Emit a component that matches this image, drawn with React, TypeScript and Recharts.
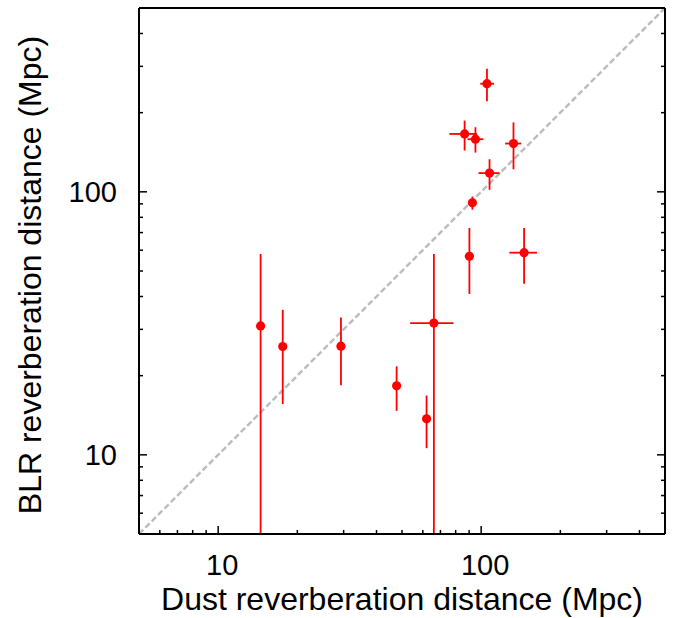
import React from 'react';
import { ScatterChart, Scatter, XAxis, YAxis, ErrorBar, ReferenceLine, Label } from 'recharts';

// Dust reverberation distance (Mpc)
const dustDist = [14.5, 17.6, 29.3, 47.7, 62.0, 66.1, 90.2, 92.6, 145.6, 105.2, 86.5, 95.1, 132.7, 107.6];
const dustLow = [14.5, 17.6, 29.3, 47.7, 62.0, 53.7, 87.7, 92.6, 128.0, 99.2, 75.7, 88.7, 123.3, 97.7];
const dustHigh = [14.5, 17.6, 29.3, 47.7, 62.0, 78.5, 93.5, 92.6, 163.0, 112.0, 96.4, 102.0, 142.0, 117.5];
// BLR reverberation distance (Mpc); lower bounds of 5 run off the bottom of the plot
const blrDist = [30.9, 25.8, 25.9, 18.3, 13.7, 31.7, 56.9, 90.8, 58.7, 257.7, 166.0, 158.5, 152.6, 117.8];
const blrLow = [5, 15.6, 18.4, 14.7, 10.6, 5, 40.9, 85.5, 44.7, 221.0, 143.5, 141.0, 121.8, 101.8];
const blrHigh = [58.0, 35.6, 33.3, 21.7, 16.8, 58.0, 72.9, 95.9, 72.8, 294.0, 186.6, 176.0, 183.6, 133.0];

const axisDomain = [5, 500];
const axisTicks = [6, 7, 8, 9, 10, 20, 30, 40, 50, 60, 70, 80, 90, 100, 200, 300, 400];
const majorTicks = [10, 100];
const xTitle = 'Dust reverberation distance (Mpc)';
const yTitle = 'BLR reverberation distance (Mpc)';

const data = dustDist.map((x, i) => ({
  x,
  y: blrDist[i],
  xErr: [x - dustLow[i], dustHigh[i] - x],
  yErr: [blrDist[i] - blrLow[i], blrHigh[i] - blrDist[i]],
}));

const FONT = '"Liberation Sans", Arial, sans-serif';
const MAJ = 8;
const MIN = 4;
const TS = 0.001;

const isMajor = (v: number) => majorTicks.includes(v);

const BottomTick = (p: any) => {
  const v = p.payload.value;
  const len = isMajor(v) ? MAJ : MIN;
  return (
    <g>
      <line x1={p.x} x2={p.x} y1={p.y} y2={p.y - len} stroke="#000" strokeWidth={1.5} />
      {isMajor(v) && (
        <text x={p.x + 4} y={p.y + 41} textAnchor="middle" fontSize={29} fontFamily={FONT} fill="#000">
          {v}
        </text>
      )}
    </g>
  );
};

const TopTick = (p: any) => {
  const v = p.payload.value;
  const len = isMajor(v) ? MAJ : MIN;
  return <line x1={p.x} x2={p.x} y1={p.y} y2={p.y + len} stroke="#000" strokeWidth={1.5} />;
};

const LeftTick = (p: any) => {
  const v = p.payload.value;
  const len = isMajor(v) ? MAJ : MIN;
  return (
    <g>
      <line x1={p.x} x2={p.x + len} y1={p.y} y2={p.y} stroke="#000" strokeWidth={1.5} />
      {isMajor(v) && (
        <text x={p.x - 22} y={p.y + 10} textAnchor="end" fontSize={29} fontFamily={FONT} fill="#000">
          {v}
        </text>
      )}
    </g>
  );
};

const RightTick = (p: any) => {
  const v = p.payload.value;
  const len = isMajor(v) ? MAJ : MIN;
  return <line x1={p.x} x2={p.x - len} y1={p.y} y2={p.y} stroke="#000" strokeWidth={1.5} />;
};

const XTitle = (props: any) => {
  const vb = props.viewBox;
  return (
    <text x={vb.x + vb.width / 2} y={vb.y + 76} textAnchor="middle" fontSize={32} fontFamily={FONT} fill="#000">
      {xTitle}
    </text>
  );
};

const YTitle = (props: any) => {
  const vb = props.viewBox;
  const cx = vb.x + 41;
  const cy = vb.y + vb.height / 2 + 4;
  return (
    <text
      x={cx}
      y={cy}
      transform={`rotate(-90, ${cx}, ${cy})`}
      textAnchor="middle"
      fontSize={32}
      fontFamily={FONT}
      fill="#000"
    >
      {yTitle}
    </text>
  );
};

const Dot = (p: any) => <circle cx={p.cx} cy={p.cy} r={4.6} fill="#ff0000" />;

export default function App() {
  return (
    <div style={{ position: 'absolute', left: 0, top: 0, width: 678, height: 618, background: '#fff' }}>
      <ScatterChart width={678} height={618} margin={{ top: 7, right: 12, bottom: 0, left: 0 }}>
        <XAxis
          xAxisId="b"
          dataKey="x"
          type="number"
          scale="log"
          domain={axisDomain}
          allowDataOverflow
          ticks={axisTicks}
          interval={0}
          height={84}
          tickSize={TS}
          tickMargin={0}
          tickLine={false}
          tick={BottomTick}
          axisLine={{ stroke: '#000', strokeWidth: 2 }}
        >
          <Label content={XTitle} />
        </XAxis>
        <XAxis
          xAxisId="t"
          orientation="top"
          type="number"
          scale="log"
          domain={axisDomain}
          allowDataOverflow
          ticks={axisTicks}
          interval={0}
          height={1}
          tickSize={TS}
          tickMargin={0}
          tickLine={false}
          tick={TopTick}
          axisLine={{ stroke: '#000', strokeWidth: 2 }}
        />
        <YAxis
          yAxisId="l"
          dataKey="y"
          type="number"
          scale="log"
          domain={axisDomain}
          allowDataOverflow
          ticks={axisTicks}
          interval={0}
          width={139}
          tickSize={TS}
          tickMargin={0}
          tickLine={false}
          tick={LeftTick}
          axisLine={{ stroke: '#000', strokeWidth: 2 }}
        >
          <Label content={YTitle} />
        </YAxis>
        <YAxis
          yAxisId="r"
          orientation="right"
          type="number"
          scale="log"
          domain={axisDomain}
          allowDataOverflow
          ticks={axisTicks}
          interval={0}
          width={1}
          tickSize={TS}
          tickMargin={0}
          tickLine={false}
          tick={RightTick}
          axisLine={{ stroke: '#000', strokeWidth: 2 }}
        />
        <ReferenceLine
          xAxisId="b"
          yAxisId="l"
          segment={[{ x: 5, y: 5 }, { x: 500, y: 500 }]}
          stroke="#bdbdbd"
          strokeWidth={2.5}
          strokeDasharray="6 3"
        />
        <Scatter data={data} xAxisId="b" yAxisId="l" shape={Dot} isAnimationActive={false}>
          <ErrorBar dataKey="yErr" direction="y" width={0} stroke="#ff0000" strokeWidth={1.8} isAnimationActive={false} />
          <ErrorBar dataKey="xErr" direction="x" width={0} stroke="#ff0000" strokeWidth={1.8} isAnimationActive={false} />
        </Scatter>
      </ScatterChart>
    </div>
  );
}
